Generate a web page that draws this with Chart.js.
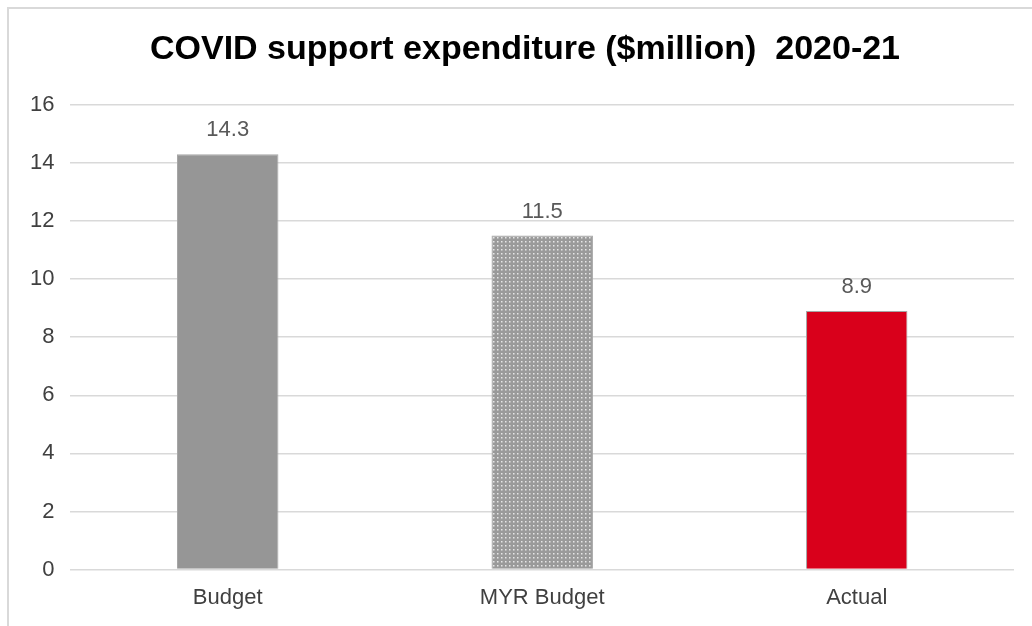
<!DOCTYPE html>
<html>
<head>
<meta charset="utf-8">
<script src="https://cdn.jsdelivr.net/npm/chart.js@4"></script>
<style>
  body { margin: 0; background: #fff; }
  #frame {
    position: absolute; left: 7px; top: 7px;
    width: 1040px; height: 640px;
    border: 2px solid #d9d9d9; box-sizing: border-box;
  }
  #chart { position: absolute; left: 0; top: 0; }
</style>
</head>
<body>
<div id="frame"></div>
<canvas id="chart" width="1030" height="626"></canvas>
<script>
const labels = ['Budget', 'MYR Budget', 'Actual'];
const values = [14.3, 11.5, 8.9];
const yTicks = [0, 2, 4, 6, 8, 10, 12, 14, 16];

const FONT = '"Liberation Sans", Arial, sans-serif';

// dotted fill for the MYR bar
function dotPattern() {
    const c = document.createElement('canvas');
    c.width = 4; c.height = 4;
    const g = c.getContext('2d');
    g.fillStyle = '#9a9a9a';
    g.fillRect(0, 0, 4, 4);
    g.fillStyle = '#e6e6e6';
    g.fillRect(1, 1, 1.5, 1.5);
    return g.createPattern(c, 'repeat');
}

const valueLabels = {
    id: 'valueLabels',
    afterDatasetsDraw(chart) {
        const ctx = chart.ctx;
        const meta = chart.getDatasetMeta(0);
        ctx.save();
        ctx.font = '22px ' + FONT;
        ctx.fillStyle = '#595959';
        ctx.textAlign = 'center';
        ctx.textBaseline = 'middle';
        meta.data.forEach((bar, i) => {
            ctx.fillText(values[i].toFixed(1), bar.x, bar.y - 24);
        });
        ctx.restore();
    }
};

// nudge the title a little to the right, as in the original
const titleShift = {
    id: 'titleShift',
    afterLayout(chart) {
        chart.titleBlock.left += 11;
        chart.titleBlock.right += 11;
    }
};

new Chart(document.getElementById('chart'), {
    type: 'bar',
    data: {
        labels: labels,
        datasets: [{
            data: values,
            backgroundColor: ['#969696', dotPattern(), '#d9001b'],
            borderColor: ['#a6a6a6', '#a6a6a6', '#a6a6a6'],
            borderWidth: 1,
            barPercentage: 0.645,
            categoryPercentage: 0.5
        }]
    },
    options: {
        responsive: false,
        animation: false,
        layout: { padding: { left: 14, right: 16, top: 0, bottom: 0 } },
        plugins: {
            legend: { display: false },
            tooltip: { enabled: false },
            title: {
                display: true,
                text: 'COVID support expenditure ($million)  2020-21',
                color: '#000',
                font: { family: FONT, size: 34, weight: 'bold' },
                padding: { top: 29, bottom: 35 }
            }
        },
        scales: {
            x: {
                grid: { display: false, drawTicks: false },
                border: { display: false },
                ticks: {
                    color: '#404040',
                    padding: 15,
                    font: { family: FONT, size: 22 }
                }
            },
            y: {
                min: 0, max: 16,
                afterBuildTicks(axis) { axis.ticks = yTicks.map(v => ({ value: v })); },
                grid: { color: '#d9d9d9', lineWidth: 1.5, drawTicks: false },
                border: { display: false },
                ticks: {
                    color: '#404040',
                    padding: 16,
                    font: { family: FONT, size: 22 }
                }
            }
        }
    },
    plugins: [valueLabels, titleShift]
});
</script>
</body>
</html>
